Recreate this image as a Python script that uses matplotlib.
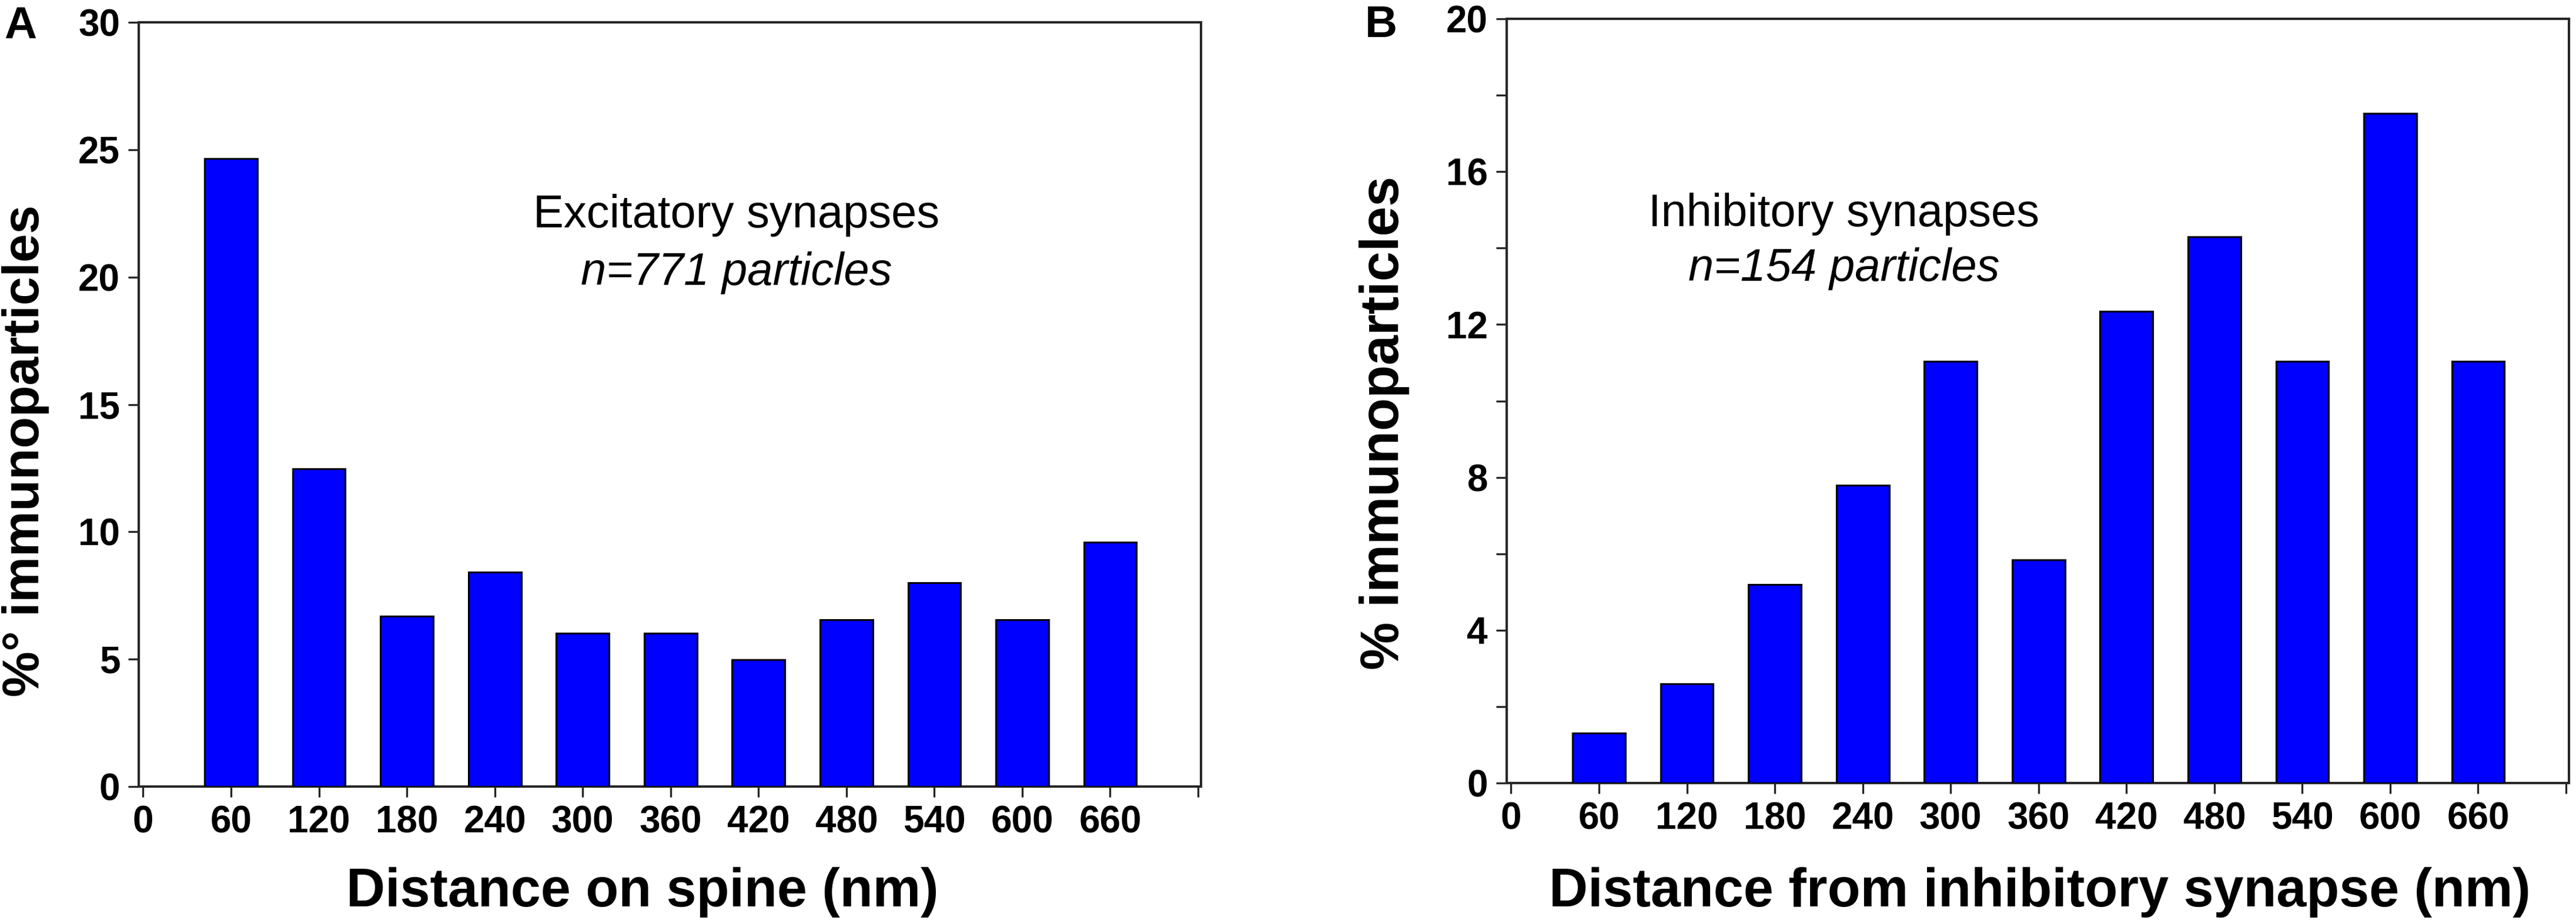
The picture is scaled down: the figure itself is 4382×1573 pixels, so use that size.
import matplotlib
matplotlib.use("Agg")
import matplotlib.pyplot as plt
from matplotlib.ticker import MultipleLocator

plt.rcParams['font.family'] = ['Liberation Sans', 'DejaVu Sans']

# distance bins (nm), bar centres
distances = [60, 120, 180, 240, 300, 360, 420, 480, 540, 600, 660]
xticks = [0, 60, 120, 180, 240, 300, 360, 420, 480, 540, 600, 660, 720]
xticklabels = ['0', '60', '120', '180', '240', '300', '360', '420', '480', '540', '600', '660', '']

# panel A: excitatory synapses (% of 771 particles)
excitatory = [24.65, 12.48, 6.68, 8.41, 6.01, 6.01, 4.97, 6.54, 8.00, 6.54, 9.59]
# panel B: inhibitory synapses (% of 154 particles)
inhibitory = [1.30, 2.60, 5.19, 7.79, 11.04, 5.84, 12.34, 14.29, 11.04, 17.53, 11.04]

W, H = 4382, 1573
fig = plt.figure(figsize=(W / 100, H / 100), dpi=100)


def px_axes(left, right, top, bottom):
    return [left / W, 1 - bottom / H, (right - left) / W, (bottom - top) / H]


def style_axes(ax):
    for sp in ax.spines.values():
        sp.set_linewidth(2.9)
        sp.set_color('#262626')
    ax.tick_params(axis='both', which='both', direction='out', length=13, width=2.4,
                   color='#262626', labelsize=46, pad=10)
    ax.tick_params(top=False, right=False)
    for lab in ax.get_xticklabels() + ax.get_yticklabels():
        lab.set_fontweight('bold')
    ax.set_xlim(-3, 722)


# ---- Panel A ----
axA = fig.add_axes(px_axes(236, 2043, 38, 1339))
axA.bar(distances, excitatory, width=36, color='#0000ff', edgecolor='black', linewidth=2.2, zorder=3)
axA.set_ylim(0, 30)
axA.set_yticks([0, 5, 10, 15, 20, 25, 30])
axA.set_xticks(xticks)
axA.set_xticklabels(xticklabels)
style_axes(axA)
axA.set_xlabel('Distance on spine (nm)', fontsize=66, fontweight='bold', va='baseline')
axA.xaxis.set_label_coords(0.474, -0.1568)
axA.set_ylabel('%° immunoparticles', fontsize=63, fontweight='bold', va='center', ha='center')
axA.yaxis.set_label_coords(-0.1068, 0.439)
axA.text(405, 21.95, 'Excitatory synapses', fontsize=56, ha='center', va='baseline')
axA.text(405, 19.7, 'n=771 particles', fontsize=56, style='italic', ha='center', va='baseline')

# ---- Panel B ----
axB = fig.add_axes(px_axes(2563, 4370, 32, 1333))
axB.bar(distances, inhibitory, width=36, color='#0000ff', edgecolor='black', linewidth=2.2, zorder=3)
axB.set_ylim(0, 20)
axB.set_yticks([0, 4, 8, 12, 16, 20])
axB.yaxis.set_minor_locator(MultipleLocator(2))
axB.set_xticks(xticks)
axB.set_xticklabels(xticklabels)
style_axes(axB)
axB.set_xlabel('Distance from inhibitory synapse (nm)', fontsize=66, fontweight='bold', va='baseline')
axB.xaxis.set_label_coords(0.502, -0.1614)
axB.set_ylabel('% immunoparticles', fontsize=66, fontweight='bold', va='center', ha='center')
axB.yaxis.set_label_coords(-0.1151, 0.471)
axB.text(227, 14.58, 'Inhibitory synapses', fontsize=56, ha='center', va='baseline')
axB.text(227, 13.15, 'n=154 particles', fontsize=56, style='italic', ha='center', va='baseline')

# panel letters
fig.text(7 / W, 1 - 65 / H, 'A', fontsize=55, fontweight='bold', ha='left', va='baseline')
fig.text(2322 / W, 1 - 63 / H, 'B', fontsize=55, fontweight='bold', ha='left', va='baseline')

fig.savefig('out.png', dpi=100, facecolor='white')
